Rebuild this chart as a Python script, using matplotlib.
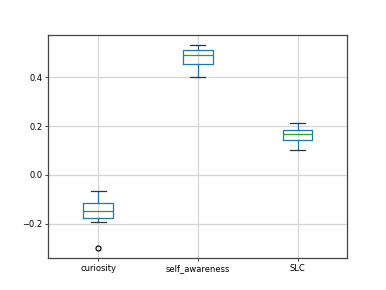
import matplotlib
matplotlib.use("Agg")
import matplotlib.pyplot as plt

categories = ["curiosity", "self_awareness", "SLC"]
whislo = [-0.193, 0.401, 0.101]
q1 = [-0.175, 0.456, 0.142]
med = [-0.148, 0.493, 0.168]
q3 = [-0.114, 0.512, 0.186]
whishi = [-0.067, 0.534, 0.214]
fliers = [[-0.300], [], []]

stats = []
for i, name in enumerate(categories):
    stats.append(dict(label=name, whislo=whislo[i], q1=q1[i], med=med[i],
                      q3=q3[i], whishi=whishi[i], fliers=fliers[i]))

lw = 1.5
fig = plt.figure(figsize=(386 / 60, 290 / 60), dpi=60)
ax = fig.add_subplot(111)
ax.bxp(stats,
       boxprops=dict(color="C0", linewidth=lw),
       whiskerprops=dict(color="C0", linewidth=lw),
       medianprops=dict(color="C2", linewidth=lw),
       capprops=dict(color="#333333", linewidth=lw),
       flierprops=dict(marker="o", markeredgecolor="k", markerfacecolor="none",
                       markeredgewidth=1.4, markersize=6))
ax.grid(True, color="#d5d5d5", linewidth=1.5)
for s in ax.spines.values():
    s.set_linewidth(1.5)
    s.set_color("#444444")
ax.tick_params(width=1.2, color="#444444")
ax.set_ylim(-0.341, 0.575)
fig.savefig("out.png", dpi=60)
